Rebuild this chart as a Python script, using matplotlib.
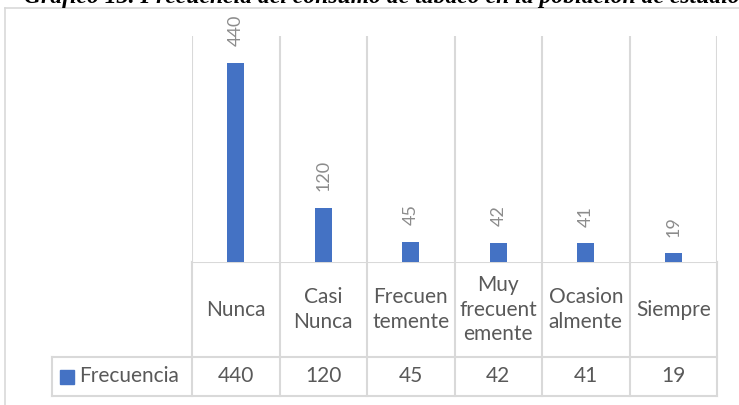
import matplotlib
matplotlib.use("Agg")
import matplotlib.pyplot as plt
from matplotlib.patches import Rectangle

categorias = ["Nunca", "Casi\nNunca", "Frecuen\ntemente", "Muy\nfrecuent\nemente", "Ocasion\nalmente", "Siempre"]
frecuencia = [440, 120, 45, 42, 41, 19]
serie = "Frecuencia"
titulo = "Gráfico 13. Frecuencia del consumo de tabaco en la población de estudio"

W, H = 739, 405
AZUL = "#4472C4"
GRIS = "#D9D9D9"
TEXTO = "#595959"
FUENTE = "Lato"

fig = plt.figure(figsize=(W / 100, H / 100), dpi=100)

def px(x0, y0, x1, y1):
    # pixel box (top-left origin) -> figure fraction rect
    return [x0 / W, 1 - y1 / H, (x1 - x0) / W, (y1 - y0) / H]

# overlay for frame, title and data table (pixel coordinates)
ov = fig.add_axes([0, 0, 1, 1])
ov.set_xlim(0, W)
ov.set_ylim(H, 0)
ov.axis("off")

ov.plot([5, 5], [8, H], color=GRIS, lw=1.2)
ov.plot([5, W], [8, 8], color=GRIS, lw=1.2)
ov.text(382, 3, titulo, ha="center", va="baseline", fontsize=17,
        family="Liberation Serif", weight="bold", style="italic", color="black")

# bar chart
x_left, x_right, y_top, y_base = 192, 717, 36, 262
ax = fig.add_axes(px(x_left, y_top, x_right, y_base))
n = len(frecuencia)
pos = list(range(n))
ax.bar(pos, frecuencia, width=0.19, color=AZUL, zorder=3)
ax.set_xlim(-0.5, n - 0.5)
ax.set_ylim(0, 500)
for s in ax.spines.values():
    s.set_visible(False)
ax.set_xticks([])
ax.set_yticks([])
for b in range(n + 1):
    ax.axvline(b - 0.5, color=GRIS, lw=1.5, zorder=1)
for p, v in zip(pos, frecuencia):
    ax.annotate(str(v), (p, v), xytext=(0, 12), textcoords="offset points",
                rotation=90, ha="center", va="bottom", fontsize=13,
                color="#8C8C8C", family=FUENTE, annotation_clip=False)

# data table
cw = (x_right - x_left) / n
row1_bot, row2_bot = 357, 396
leg_left = 52
lk = dict(color=GRIS, lw=1.5)
ov.plot([x_left, x_right], [y_base, y_base], **lk)
ov.plot([leg_left, x_right], [row1_bot, row1_bot], **lk)
ov.plot([leg_left, x_right], [row2_bot, row2_bot], **lk)
ov.plot([leg_left, leg_left], [row1_bot, row2_bot], **lk)
for b in range(n + 1):
    xb = x_left + b * cw
    ov.plot([xb, xb], [y_base, row2_bot], **lk)
for i, (c, v) in enumerate(zip(categorias, frecuencia)):
    xc = x_left + (i + 0.5) * cw
    ov.text(xc, (y_base + row1_bot) / 2, c, ha="center", va="center",
            fontsize=15, color=TEXTO, family=FUENTE, linespacing=1.3)
    ov.text(xc, (row1_bot + row2_bot) / 2, str(v), ha="center", va="center",
            fontsize=15, color=TEXTO, family=FUENTE)
ov.add_patch(Rectangle((60, 370), 14, 14, color=AZUL))
ov.text(79, (row1_bot + row2_bot) / 2, serie, ha="left", va="center",
        fontsize=15, color=TEXTO, family=FUENTE)

fig.savefig("out.png", dpi=100)
